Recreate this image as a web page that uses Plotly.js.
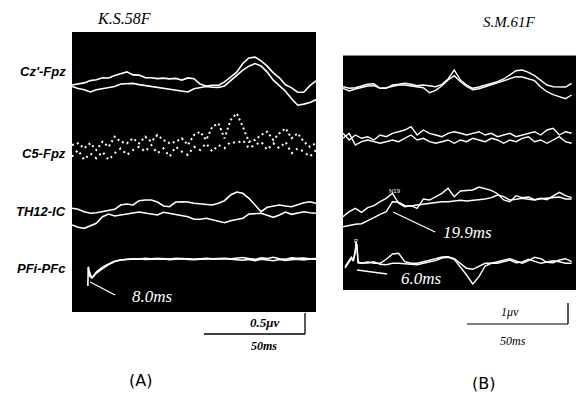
<!DOCTYPE html>
<html><head><meta charset="utf-8">
<script src="https://cdn.plot.ly/plotly-3.0.1.min.js"></script>
<style>html,body{margin:0;padding:0;background:#fff}</style>
</head><body><div id="g" style="width:576px;height:394px"></div>
<script>
// ---- time bases (ms) ----
const tA = [0,3,6,9,12,15,18,21,24,27,30,33,36,39,42,45,48,51,54,57,60,63,66,69,72,75,78,81,84,87,90,93,96,99,102,105,108,111,114,117,120];
const tB = [0,3,6,9,12,15,18,21,24,27,30,33,36,39,42,45,48,51,54,57,60,63,66,69,72,75,78,81,84,87,90,93,96,99,102,105,108,111];
const tPF = [7.8,8.0,8.3,9.7,11,12.1,15.4,18,20.3,23,25.2,27,30,33,36,39,42,45,48,51,54,57,60,63,66,69,72,75,78,81,84,87,90,93,96,99,102,105,108,111,114,117,120];
const tPF2 = [8.0,8.6,10,12,15,18,21,24,27,30,33,36,39,42,45,48,51,54,57,60,63,66,69,72,75,78,81,84,87,90,93,96,99,102,105,108,111,114,117,120];
const tB4 = [1,2.5,4,5,6,6.3,6.8,7.3,9,12,15,18,21,24,27,30,33,36,39,42,45,48,51,54,57,60,63,66,69,72,75,78,81,84,87,90,93,96,99,102,105,108,111];

// ---- channel names ----
const chanA = ["Cz'-Fpz","C5-Fpz","TH12-IC","PFi-PFc"];

// ---- panel A (K.S.58F) amplitudes ----
const czA1 = [-5,-3.6,-2.9,-0.6,0.3,2.2,2,4.6,6.1,8.1,5.1,4.9,2.4,2.3,1.4,1.9,1.1,1.6,-0.1,2.1,1.3,-4.1,-6,-5.3,-5.4,-1.9,2.9,7.9,16.5,22.1,22.9,19.1,13.9,7.1,2.2,-4.8,-7.9,-12.1,-12.3,-5.6,-0.8];
const czA2 = [-6.5,-8.6,-9.8,-12,-9.7,-8.6,-7,-6.6,-4,-3.5,-3.4,-4.6,-5.5,-7,-7.4,-8.6,-9,-10.3,-10.8,-12,-8.8,-7.5,-6.5,-7.2,-7.5,-5.9,-0.8,4.8,9.9,13.8,16.5,14.1,7.9,-0.2,-5.5,-11.2,-18.8,-25.2,-24.1,-22.5,-19.8];
const c5A1 = [5,6.7,1.7,6.7,0,8.3,3.3,13.3,8.3,6.7,11.7,6.7,13.3,8.3,15,10,6.7,8.3,11.7,5,15,18.3,10,23.3,26.7,11.7,30,36.7,23.3,8.3,10,15,18.3,10,16.7,21.7,11.7,16.7,8.3,3.3,6.7];
const c5A2 = [-6.7,0,-10,-3.3,-8.3,-1.7,-10,-3.3,1.7,-5,0,3.3,-1.7,5,-3.3,1.7,-6.7,3.3,-1.7,-5,3.3,0,6.7,-1.7,5,1.7,8.3,6.7,10,1.7,5,8.3,0,6.7,1.7,8.3,-3.3,1.7,-1.7,-6.7,0];
const thA1 = [3.7,2.7,0.3,-1.3,-0.7,0.3,1.3,2.7,7,8,7,11.3,12,12,10,6,5.3,10,10.3,10,8.7,8,7.3,7,8.7,11.3,17,20,18.7,13.7,7,0.3,4.7,6,7,6,5.3,7.3,9.3,10.3,8.7];
const thA2 = [-13,-15.3,-16.3,-14,-11.3,-4.7,-2,-4,-3,-1.3,-0.3,0,-1,-2,-3,-0.3,-1.3,-3,-4,-4.7,-7.3,-7.3,-6.3,-8,-9.7,-10.7,-8.7,-7.3,-6.3,-2,-1.3,-1.3,-3.3,-5.3,-3,0,-2.3,-1.3,0.3,-0.7,-1.3];
const pfA1 = [-18,1.3,-2,-10.3,-6.5,-3.7,1.3,4,6.3,7.8,8.7,8.8,9.3,9,9.6,9.2,9.8,9.4,9,9.6,9.2,9.5,8.9,9.3,9.7,9.1,9.4,9.8,9.2,9.6,10.5,9.4,8.6,10.2,9.5,10.8,9.3,8.7,10.1,9.6,9.9,9.2,9.5];
const pfA2 = [0,-8,-9.5,-5,-0.5,3.5,6.5,8,8.5,8.8,9.2,8.6,9,8.7,9.1,8.4,8.9,9.2,8.6,8.3,8.8,9,8.5,8.7,9.3,8.9,8.1,7.8,8.6,7.4,8.9,7.9,7.2,8.5,7.6,8.3,8.8,8.1,9,8.7];

// ---- panel B (S.M.61F) amplitudes ----
const b1a = [1.3,-0.3,0.3,1.7,3.7,4.3,-0.3,-0.3,3,3.7,4.7,3.7,2.3,3,2,1.3,3.7,9,18,8,3,-0.3,1,2.7,4.3,6.3,9,13,17.3,18,15.7,12.3,7.7,3,1.3,1.3,1,4.7];
const b1b = [-0.3,-3,-1,0.7,2,2.3,-0.3,0.3,1.3,3,3,2.3,1.3,0.3,-4.7,-2.3,2.3,8,12.3,6.3,1.7,-1.7,-0.7,1.3,3.3,5.3,7.3,9.7,11.3,11,9.3,7.3,1,-3.7,-6.7,-8.7,-10.7,-7];
const b2a = [-0.3,-7,-2,-5.3,-3.7,-7,-2,-3.7,-0.3,1.3,3,6.3,-2,3,-0.3,-2,-3.7,-0.3,1.3,-0.3,-2,-0.3,1.3,-2,-0.3,-3.7,-2,-0.3,-3.7,-2,-0.3,1.3,-2,3,4.7,-2,1.3,-0.3];
const b2b = [-5.3,-0.3,-12,-8.7,-7,-8.7,-10.3,-8.7,-7,-8.7,-5.3,-2,-7,-5.3,-8.7,-10.3,-8.7,-7,-10.3,-7,-8.7,-5.3,-7,-8.7,-5.3,-7,-10.3,-7,-8.7,-5.3,-3.7,-8.7,-7,-10.3,-7,-3.7,-8.7,-10.3];
const b3a = [-11.7,-6.7,-3.3,-7.3,-2.7,-0.7,3.3,6.7,11.7,1.7,-1.7,-0.7,-3.3,6,5,8.7,11.7,16.7,8.3,14,14.7,15,18,16.7,14.7,11.3,5,3.3,9.3,7.3,8,5.3,6.7,5.3,9.3,12.7,9.3,7.3];
const b3b = [-21.7,-20.3,-19.3,-18.7,-16,-12.7,-9.3,-6.7,3.3,2.7,-0.7,-1,0,0.7,1.7,2.7,3.3,3.3,4.3,4.7,4,4.7,5,6,7.3,10,8.3,5,5.7,6.7,5.7,5,6.3,6.7,7.3,8,6,6];
const b4a = [-4.7,0.3,4.7,2,12,20.3,17,0.3,-1.3,0,-1.3,-1.3,2.7,8,8.7,0.3,-1.3,-1.3,0,1.3,3.3,5,5.3,3.3,-1.3,-6.3,-7.3,-4,-1.3,-1.3,0,2,3.3,1,-1.3,1.3,4.7,3.3,-0.3,-0.7,2,3.3,0.3];
const b4b = [-6,-1.5,3.5,1,10,18,14,-1,-1,-1,0.3,-2.3,-2.7,-1.3,-1.3,-1.7,-2.3,-2.7,-1.3,-0.3,1.3,4,4.7,2.7,-5,-13,-22,-14.7,-4,-1.3,-1.3,0.3,2,-0.7,0,2.7,1,-1.3,0,1.3,0.3,-1.3,-1.3];

// ---- layout constants ----
const offA = [-48,-118,-180,-236];
const offB = [-33,-78,-150,-207];

function tr(x, v, off, xa, ya, dash, w){
  return {x:x, y:v.map(d=>d+off), xaxis:xa, yaxis:ya, type:'scatter', mode:'lines',
    line:{color:'#ffffff', width:w||1.6, dash:dash||'solid'}, hoverinfo:'skip', showlegend:false};
}
const data = [
  tr(tA, czA1, offA[0],'x','y'), tr(tA, czA2, offA[0],'x','y'),
  tr(tA, c5A1, offA[1],'x','y','2px,3px',2), tr(tA, c5A2, offA[1],'x','y','2px,4px',2),
  tr(tA, thA1, offA[2],'x','y'), tr(tA, thA2, offA[2],'x','y'),
  tr(tPF, pfA1, offA[3],'x','y'), tr(tPF2, pfA2, offA[3],'x','y'),
  tr(tB, b1a, offB[0],'x2','y2',null,1.4), tr(tB, b1b, offB[0],'x2','y2',null,1.4),
  tr(tB, b2a, offB[1],'x2','y2',null,1.4), tr(tB, b2b, offB[1],'x2','y2',null,1.4),
  tr(tB, b3a, offB[2],'x2','y2',null,1.4), tr(tB, b3b, offB[2],'x2','y2',null,1.4),
  tr(tB4, b4a, offB[3],'x2','y2',null,1.4), tr(tB4, b4b, offB[3],'x2','y2',null,1.4)
];

const W=576, H=394;
const px = v=>v/W, py = v=>1-v/H;
const ax = {showgrid:false, zeroline:false, showticklabels:false, ticks:'', showline:false, fixedrange:true};
const serifI = {family:'Liberation Serif, DejaVu Serif, serif', style:'italic', color:'#000'};
const labF = {family:'Liberation Sans, Arial, sans-serif', weight:'bold', style:'italic', size:13, color:'#000'};
const wF = {family:'Liberation Serif, DejaVu Serif, serif', style:'italic', size:17, color:'#fff'};

function A(o){ return Object.assign({showarrow:false, xanchor:'center', yanchor:'middle'}, o); }
const labY = [71,154,212,268];
const ann = chanA.map((c,i)=>A({text:c, xref:'paper', yref:'paper', x:px(68), y:py(labY[i]), xanchor:'right', font:labF}));
ann.push(
  A({text:'K.S.58F', xref:'paper', yref:'paper', x:px(124), y:py(19), font:Object.assign({},serifI,{size:16})}),
  A({text:'S.M.61F', xref:'paper', yref:'paper', x:px(509), y:py(22), font:Object.assign({},serifI,{size:15})}),
  A({text:'0.5μv', xref:'paper', yref:'paper', x:px(264), y:py(322), font:Object.assign({},serifI,{size:13, weight:'bold'})}),
  A({text:'50ms', xref:'paper', yref:'paper', x:px(264), y:py(346), font:Object.assign({},serifI,{size:12, weight:'bold'})}),
  A({text:'1μv', xref:'paper', yref:'paper', x:px(510), y:py(312), font:Object.assign({},serifI,{size:12})}),
  A({text:'50ms', xref:'paper', yref:'paper', x:px(513), y:py(341), font:Object.assign({},serifI,{size:12})}),
  A({text:'(A)', xref:'paper', yref:'paper', x:px(140), y:py(380), font:{family:'DejaVu Sans, sans-serif', size:16, color:'#000'}}),
  A({text:'(B)', xref:'paper', yref:'paper', x:px(483), y:py(383), font:{family:'DejaVu Sans, sans-serif', size:16, color:'#000'}}),
  A({text:'8.0ms', xref:'x', yref:'y', x:39.8, y:-264, font:wF}),
  A({text:'19.9ms', xref:'x2', yref:'y2', x:60.2, y:-177, font:wF}),
  A({text:'6.0ms', xref:'x2', yref:'y2', x:37.9, y:-223, font:wF}),
  A({text:'N19', xref:'x2', yref:'y2', x:25.2, y:-136, font:{family:'Liberation Sans, sans-serif', size:6, color:'#fff'}}),
  A({text:'P', xref:'x2', yref:'y2', x:6.3, y:-186, font:{family:'Liberation Sans, sans-serif', size:6, color:'#fff'}})
);

const wl = {color:'#fff', width:1.3};
const bl = {color:'#000', width:1.3};
const shapes = [
  {type:'line', xref:'x', yref:'y', x0:8.9, y0:-250, x1:21.2, y1:-263, line:wl},
  {type:'line', xref:'x2', yref:'y2', x0:24.3, y0:-157, x1:44.7, y1:-177, line:wl},
  {type:'line', xref:'x2', yref:'y2', x0:6.8, y0:-215, x1:21.4, y1:-219, line:wl},
  {type:'line', xref:'paper', yref:'paper', x0:px(204), y0:py(334), x1:px(305), y1:py(334), line:bl},
  {type:'line', xref:'paper', yref:'paper', x0:px(305), y0:py(313), x1:px(305), y1:py(334), line:bl},
  {type:'line', xref:'paper', yref:'paper', x0:px(467), y0:py(324), x1:px(568), y1:py(324), line:{color:'#555', width:1.3}},
  {type:'line', xref:'paper', yref:'paper', x0:px(568), y0:py(303), x1:px(568), y1:py(324), line:bl},
  {type:'line', xref:'paper', yref:'paper', x0:px(343), y0:py(55.5), x1:1, y1:py(55.5), line:{color:'#888', width:1}}
];

const layout = {
  width:W, height:H, margin:{l:0,r:0,t:0,b:0}, paper_bgcolor:'#fff', plot_bgcolor:'#000',
  showlegend:false,
  xaxis:Object.assign({}, ax, {domain:[px(72), px(316)], range:[0,120]}),
  yaxis:Object.assign({}, ax, {domain:[py(312), py(32)], range:[-280,0]}),
  xaxis2:Object.assign({}, ax, {domain:[px(343), 1], range:[0,113.1], anchor:'y2'}),
  yaxis2:Object.assign({}, ax, {domain:[py(290), py(55)], range:[-235,0], anchor:'x2'}),
  annotations:ann, shapes:shapes
};
Plotly.newPlot('g', data, layout, {staticPlot:true, displayModeBar:false});
</script></body></html>
